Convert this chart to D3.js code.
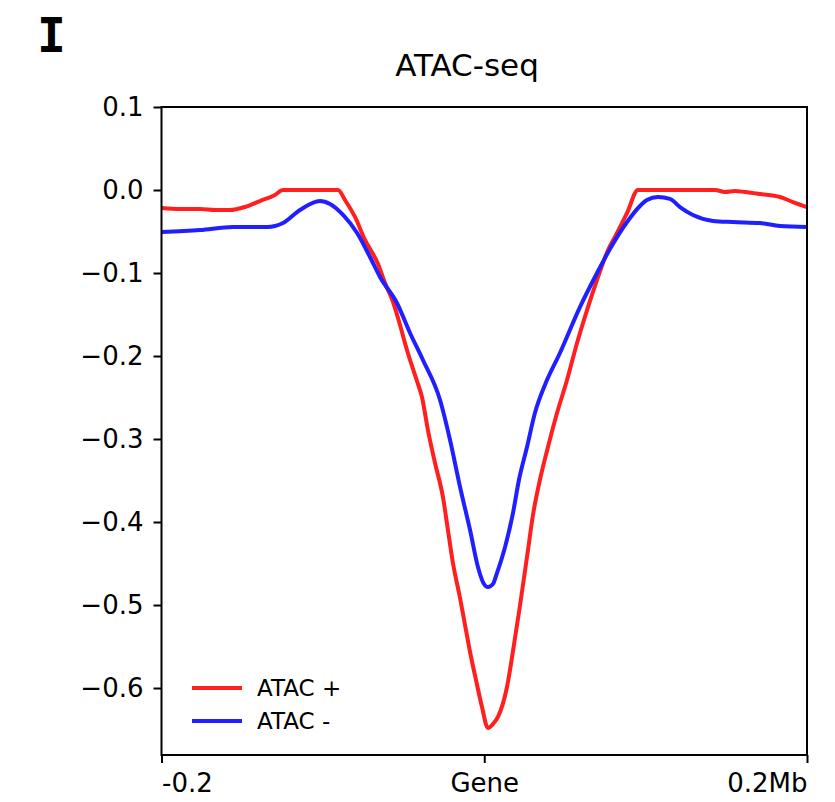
<!DOCTYPE html>
<html>
<head>
<meta charset="utf-8">
<script src="https://cdn.jsdelivr.net/npm/d3@7/dist/d3.min.js"></script>
<style>
  body { margin: 0; background: #fff; }
  text { font-family: "DejaVu Sans", sans-serif; fill: #000; }
</style>
</head>
<body>
<div id="mainContainer"></div>
<script>
'use strict';

// position relative to gene (kb) and signal
var redX = [-200, -188.5, -176.1, -166.8, -157.6, -148.3, -139.0, -129.7, -124.7, -90.6,
    -86.3, -80.1, -73.9, -65.8, -61.5, -56.5, -52.2, -47.9, -41.7, -38.6,
    -34.9, -30.5, -25.6, -22.5, -19.4, -15.0, -11.9, -8.8, -5.1, -1.4,
    2.3, 5.4, 8.5, 14.1, 18.4, 22.2, 27.1, 30.2, 34.5, 39.5,
    45.1, 51.3, 57.5, 63.7, 70.5, 76.7, 82.3, 88.5, 95.3, 143.0,
    149.2, 155.4, 161.6, 170.9, 183.3, 191.3, 200];
var redY = [-0.0217, -0.0229, -0.0229, -0.0241, -0.0241, -0.0205, -0.0133, -0.0060, 0, 0,
    -0.0120, -0.0325, -0.0602, -0.0892, -0.1120, -0.1349, -0.1627, -0.1928, -0.2301, -0.2494,
    -0.2892, -0.3289, -0.3699, -0.4096, -0.4494, -0.4916, -0.5241, -0.5566, -0.5904, -0.6229,
    -0.6482, -0.6434, -0.6349, -0.5988, -0.5482, -0.5000, -0.4337, -0.3916, -0.3494, -0.3096,
    -0.2687, -0.2289, -0.1843, -0.1446, -0.1048, -0.0723, -0.0518, -0.0277, 0, 0,
    -0.0024, -0.0012, -0.0024, -0.0048, -0.0084, -0.0145, -0.0205];

var blueX = [-200, -176.1, -155.7, -134.6, -124.7, -114.2, -101.8, -95.6, -87.5, -78.8,
    -70.8, -64.6, -54.1, -46.0, -38.0, -27.4, -21.2, -15.0, -8.8,
    -3.9, -0.8, 2.3, 5.4, 7.9, 12.9, 17.8, 21.5, 26.5, 31.4,
    37.6, 46.9, 59.3, 69.9, 77.9, 88.5, 96.5, 100.8, 107.6, 115.1,
    121.3, 129.3, 141.7, 154.1, 170.9, 183.3, 200];
var blueY = [-0.0506, -0.0482, -0.0446, -0.0446, -0.0398, -0.0241, -0.0133, -0.0169, -0.0301, -0.0518,
    -0.0807, -0.1048, -0.1361, -0.1723, -0.2048, -0.2530, -0.3012, -0.3578, -0.4096,
    -0.4542, -0.4723, -0.4783, -0.4747, -0.4614, -0.4301, -0.3892, -0.3494, -0.3096, -0.2687,
    -0.2349, -0.1964, -0.1410, -0.1000, -0.0711, -0.0386, -0.0193, -0.0120, -0.0084, -0.0108,
    -0.0205, -0.0301, -0.0373, -0.0386, -0.0398, -0.0434, -0.0446];

var xTickValues = [-200, 0, 200],
    xTickLabels = ['-0.2', 'Gene', '0.2Mb'],
    yTickValues = [0.1, 0.0, -0.1, -0.2, -0.3, -0.4, -0.5, -0.6];

var series = [
    { name: 'ATAC +', color: '#ff1f1f', xs: redX, ys: redY },
    { name: 'ATAC -', color: '#1f1fff', xs: blueX, ys: blueY }
];

var svgWidth = 835,
    svgHeight = 802,
    margin = { left: 161.5, right: 28, top: 107, bottom: 47 };

var svg = d3.select('#mainContainer')
    .append('svg')
    .attr('width', svgWidth)
    .attr('height', svgHeight);

var x = d3.scaleLinear().domain([-200, 200]).range([margin.left, svgWidth - margin.right]);
var y = d3.scaleLinear().domain([-0.6807, 0.1]).range([svgHeight - margin.bottom, margin.top]);

// panel letter
svg.append('text')
    .attr('x', 37).attr('y', 52)
    .style('font-family', '"DejaVu Sans Mono", monospace')
    .style('font-weight', 'bold')
    .style('font-size', '48px')
    .text('I');

// title
svg.append('text')
    .attr('x', 467).attr('y', 76)
    .attr('text-anchor', 'middle')
    .style('font-size', '31px')
    .text('ATAC-seq');

// lines
var line = d3.line()
    .x(function (d) { return x(d[0]); })
    .y(function (d) { return y(d[1]); })
    .curve(d3.curveMonotoneX);

series.forEach(function (s) {
    svg.append('path')
        .datum(d3.zip(s.xs, s.ys))
        .attr('d', line)
        .attr('fill', 'none')
        .attr('stroke', s.color)
        .attr('stroke-width', 4)
        .attr('stroke-linejoin', 'round');
});

// frame
svg.append('rect')
    .attr('x', x(-200)).attr('y', y(0.1))
    .attr('width', x(200) - x(-200))
    .attr('height', y(-0.6807) - y(0.1))
    .attr('fill', 'none')
    .attr('stroke', '#000')
    .attr('stroke-width', 2);

// y axis
var yAxis = svg.append('g')
    .attr('transform', 'translate(' + x(-200) + ',0)')
    .call(d3.axisLeft(y).tickValues(yTickValues).tickSize(8).tickPadding(10)
        .tickFormat(function (d) { return d3.format('.1f')(d).replace('-', '\u2212'); }));
yAxis.select('.domain').remove();
yAxis.selectAll('line').attr('stroke-width', 2);
yAxis.selectAll('text').style('font-size', '26px').style('font-family', '"DejaVu Sans", sans-serif');

// x axis
var xAxis = svg.append('g')
    .attr('transform', 'translate(0,' + y(-0.6807) + ')')
    .call(d3.axisBottom(x).tickValues(xTickValues).tickSize(8).tickPadding(11)
        .tickFormat(function (d, i) { return xTickLabels[i]; }));
xAxis.select('.domain').remove();
xAxis.selectAll('line').attr('stroke-width', 2);
xAxis.selectAll('text')
    .style('font-size', '26px')
    .style('font-family', '"DejaVu Sans", sans-serif')
    .attr('text-anchor', function (d, i) { return i === 0 ? 'start' : (i === 2 ? 'end' : 'middle'); });

// legend
var legend = svg.append('g');
series.forEach(function (s, i) {
    var ly = 688 + i * 33;
    legend.append('line')
        .attr('x1', 192).attr('x2', 242)
        .attr('y1', ly).attr('y2', ly)
        .attr('stroke', s.color)
        .attr('stroke-width', 4);
    legend.append('text')
        .attr('x', 257).attr('y', ly + 8)
        .style('font-size', '23px')
        .text(s.name);
});
</script>
</body>
</html>
